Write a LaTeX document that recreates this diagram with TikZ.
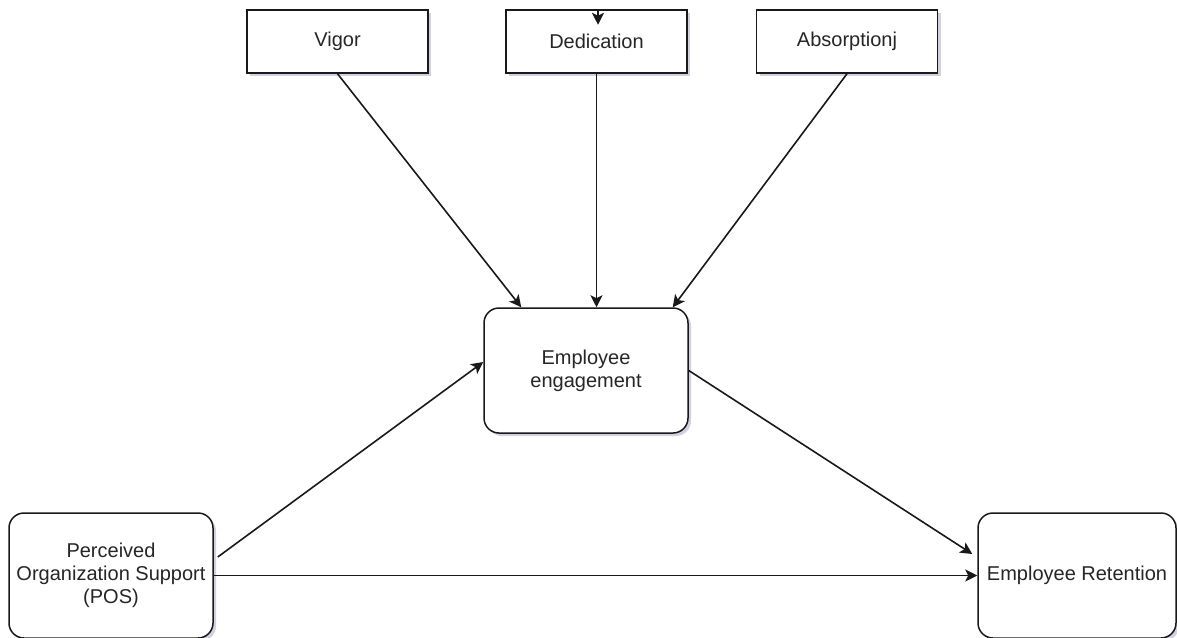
\documentclass[tikz,border=0pt]{standalone}
\usepackage{fontspec}
\setmainfont{Liberation Sans}
\usetikzlibrary{arrows.meta,shadows}

\begin{document}
\begin{tikzpicture}[x=0.5pt, y=-0.5pt, node distance=100pt,
    font=\fontsize{10}{11.5}\selectfont, text=black!85,
    box/.style={draw=black!90, line width=0.75pt, fill=white, inner sep=0pt,
      minimum width=90.5pt, minimum height=31.5pt,
      drop shadow={opacity=0.18, shadow xshift=1.5pt, shadow yshift=-1.5pt, fill=blue!30!black}},
    roundbox/.style={box, rounded corners=7.5pt, align=center,
      minimum width=102pt, minimum height=62.5pt},
    arr/.style={draw=black!90, line width=0.8pt, -{Stealth[length=6pt, width=6pt, inset=1.5pt]}}]
      \useasboundingbox (0,0) rectangle (1177,637);

      \node [box] (ded) at (596.5,41.5) {Dedication};
      \node [box, left of=ded, xshift=-29.5pt] (vigor) {Vigor};
      \node [box, right of=ded, xshift=25.25pt] (absorp) {Absorptionj};
      \node [roundbox, below of=ded, xshift=-5.25pt, yshift=-64.5pt] (engage) {Employee\\engagement};
      \node [roundbox, below of=engage, xshift=-237.5pt, yshift=-2.5pt] (pos) {Perceived\\Organization Support\\(POS)};
      \node [roundbox, below of=engage, xshift=245.5pt, yshift=-2.5pt, minimum width=99pt] (retain) {Employee Retention};

      \draw[arr] ([xshift=0.75pt]ded.north) -- ([xshift=0.75pt, yshift=-7.75pt]ded.north);
      \draw[arr] (vigor.south) -- ([xshift=19pt]engage.north west);
      \draw[arr] (ded.south) -- (ded.south |- engage.north);
      \draw[arr] (absorp.south) -- ([xshift=-8pt]engage.north east);
      \draw[arr] ([xshift=2pt, yshift=9.25pt]pos.east) -- ([yshift=4.25pt]engage.west);
      \draw[arr] (engage.east) -- ([xshift=-2.5pt, yshift=10.75pt]retain.west);
      \draw[arr] (pos.east) -- (retain.west);
    \end{tikzpicture}
\end{document}
